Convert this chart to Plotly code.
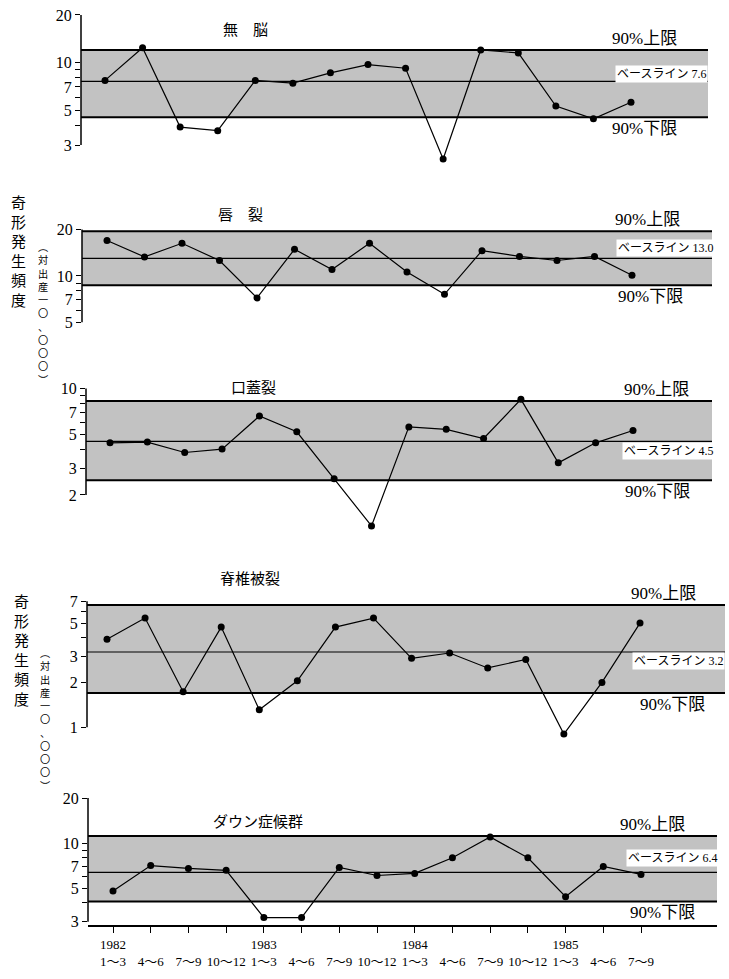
import math
import plotly.graph_objects as go

W, H = 729, 979

# ---------------- data ----------------
quarters = ["1～3", "4～6", "7～9", "10～12", "1～3", "4～6", "7～9", "10～12",
            "1～3", "4～6", "7～9", "10～12", "1～3", "4～6", "7～9"]
years = ["1982", "", "", "", "1983", "", "", "", "1984", "", "", "", "1985", "", ""]

titles = ["無　脳", "唇　裂", "口蓋裂", "脊椎被裂", "ダウン症候群"]

anencephaly = [7.7, 12.4, 3.9, 3.7, 7.7, 7.4, 8.6, 9.7, 9.2, 2.45, 12.0, 11.5, 5.3, 4.4, 5.6]
cleft_lip = [17.0, 13.3, 16.3, 12.6, 7.2, 14.9, 11.0, 16.3, 10.6, 7.6, 14.6, 13.4, 12.6, 13.4, 10.1]
cleft_palate = [4.4, 4.45, 3.8, 4.0, 6.6, 5.2, 2.55, 1.25, 5.6, 5.4, 4.7, 8.5, 3.25, 4.4, 5.3]
spina_bifida = [3.9, 5.4, 1.73, 4.7, 1.31, 2.05, 4.7, 5.4, 2.9, 3.15, 2.5, 2.85, 0.9, 2.0, 5.0]
down_syndrome = [4.8, 7.1, 6.8, 6.6, 3.2, 3.2, 6.9, 6.1, 6.3, 8.0, 11.0, 8.0, 4.4, 7.0, 6.2]

upper_90 = [12.0, 19.5, 8.3, 6.6, 11.2]
baseline = [7.6, 13.0, 4.5, 3.2, 6.4]
lower_90 = [4.5, 8.7, 2.5, 1.7, 4.1]

tick_vals = [[3, 4, 5, 6, 7, 8, 9, 10, 20],
             [5, 6, 7, 8, 9, 10, 20],
             [2, 3, 4, 5, 6, 7, 8, 9, 10],
             [1, 2, 3, 4, 5, 6, 7],
             [3, 4, 5, 6, 7, 8, 9, 10, 20]]
tick_labeled = [[3, 5, 7, 10, 20], [5, 7, 10, 20], [2, 3, 5, 7, 10], [1, 2, 3, 5, 7], [3, 5, 7, 10, 20]]

series = [anencephaly, cleft_lip, cleft_palate, spina_bifida, down_syndrome]

ylab = "奇形発生頻度"
ylab2 = "︵対出産一〇、〇〇〇︶"

# ---------------- layout geometry (pixels) ----------------
geo = [
    dict(ax=81, right=708, p0=105, p14=631, ref=20, ref_px=14, k=159, top=5, bot=170),
    dict(ax=82, right=712, p0=107, p14=632, ref=20, ref_px=230, k=155, top=222, bot=335),
    dict(ax=86, right=712, p0=110, p14=633, ref=10, ref_px=390, k=153, top=382, bot=535),
    dict(ax=87, right=725, p0=107, p14=640, ref=7, ref_px=604, k=150, top=596, bot=745),
    dict(ax=88, right=717, p0=113, p14=641, ref=20, ref_px=802, k=151, top=795, bot=930),
]
title_pos = [(245, 28), (240, 214), (253, 388), (250, 580), (258, 825)]
base_lbl = [(661, 7), (665, 10), (668, -10), (678, -9), (672, 14)]
up_lbl_x = [644, 647, 656, 663, 652]
lo_lbl_x = [644, 650, 657, 672, 662]
# vertical label centres (x, y)
ylab_pos = [(18, 251), (21, 652)]
ylab2_pos = [(43, 314), (45, 722)]

SERIF = "Liberation Serif, Noto Sans CJK JP"
CJK = "Noto Sans CJK JP"
BAND = "#c2c2c2"

fig = go.Figure()
shapes = []
annotations = []
layout = {}
n_pts = len(quarters)

for i in range(5):
    n = i + 1
    g = geo[i]
    xa = "xaxis" if n == 1 else f"xaxis{n}"
    ya = "yaxis" if n == 1 else f"yaxis{n}"
    xr = "x" if n == 1 else f"x{n}"
    yr = "y" if n == 1 else f"y{n}"

    step = (g["p14"] - g["p0"]) / (n_pts - 1)
    r0 = -(g["p0"] - g["ax"]) / step
    r1 = (n_pts - 1) + (g["right"] - g["p14"]) / step
    lref = math.log10(g["ref"])
    ytop = lref + (g["ref_px"] - g["top"]) / g["k"]
    ybot = lref - (g["bot"] - g["ref_px"]) / g["k"]

    xaxis = dict(domain=[g["ax"] / W, g["right"] / W], range=[r0, r1],
                 showgrid=False, zeroline=False, anchor=yr, fixedrange=True)
    if n == 5:
        xaxis.update(showline=True, linecolor="black", linewidth=2,
                     ticks="outside", ticklen=6, tickwidth=1.2, tickcolor="black",
                     tickmode="array", tickvals=list(range(n_pts)),
                     ticktext=[(y if y else " ") + "<br>" + q for y, q in zip(years, quarters)],
                     tickfont=dict(family=SERIF, size=13, color="black"))
    else:
        xaxis.update(visible=False)
    layout[xa] = xaxis

    layout[ya] = dict(domain=[1 - g["bot"] / H, 1 - g["top"] / H], type="log",
                      range=[ybot, ytop], showgrid=False, zeroline=False, showline=False,
                      anchor=xr, ticks="outside", ticklen=5, tickwidth=1.2, tickcolor="black",
                      tickmode="array", tickvals=tick_vals[i],
                      ticktext=[str(v) if v in tick_labeled[i] else "" for v in tick_vals[i]],
                      tickfont=dict(family=SERIF, size=16, color="black"), fixedrange=True)

    xd = f"{xr} domain"
    shapes.append(dict(type="rect", xref=xd, yref=yr, x0=0, x1=1, y0=lower_90[i], y1=upper_90[i],
                       fillcolor=BAND, line=dict(width=0), layer="below"))
    for val, wdt in ((upper_90[i], 2), (lower_90[i], 2), (baseline[i], 1.2)):
        shapes.append(dict(type="line", xref=xd, yref=yr, x0=0, x1=1, y0=val, y1=val,
                           line=dict(color="black", width=wdt), layer="below"))
    shapes.append(dict(type="line", xref=xd, yref=yr, x0=0, x1=0,
                       y0=min(tick_vals[i]), y1=max(tick_vals[i]),
                       line=dict(color="black", width=1.5)))

    fig.add_trace(go.Scatter(x=list(range(n_pts)), y=series[i], mode="lines+markers",
                             xaxis=xr, yaxis=yr, showlegend=False,
                             line=dict(color="black", width=1.2),
                             marker=dict(color="black", size=7)))

    tx, ty = title_pos[i]
    annotations.append(dict(text=titles[i], xref="paper", yref="paper", x=tx / W, y=1 - ty / H,
                            xanchor="center", yanchor="middle", showarrow=False,
                            font=dict(family=CJK, size=15, color="black")))
    annotations.append(dict(text="90%上限", xref="paper", yref=yr, x=up_lbl_x[i] / W,
                            y=math.log10(upper_90[i]), xanchor="center", yanchor="bottom",
                            showarrow=False, font=dict(family=SERIF, size=17, color="black")))
    annotations.append(dict(text="90%下限", xref="paper", yref=yr, x=lo_lbl_x[i] / W,
                            y=math.log10(lower_90[i]), xanchor="center", yanchor="top",
                            showarrow=False, font=dict(family=SERIF, size=17, color="black")))
    bx, bs = base_lbl[i]
    annotations.append(dict(text=f"ベースライン {baseline[i]:.1f}", xref="paper", yref=yr,
                            x=bx / W, y=math.log10(baseline[i]), yshift=bs,
                            xanchor="center", yanchor="middle", showarrow=False,
                            bgcolor="white", borderpad=1,
                            font=dict(family=SERIF, size=12, color="black")))

# vertical (tategaki) axis titles as stacked lines
for (x, y) in ylab_pos:
    annotations.append(dict(text="<br>".join(ylab), xref="paper", yref="paper", x=x / W, y=1 - y / H,
                            xanchor="center", yanchor="middle", showarrow=False,
                            font=dict(family=CJK, size=15, color="black")))
for (x, y) in ylab2_pos:
    annotations.append(dict(text="<br>".join(ylab2), xref="paper", yref="paper", x=x / W, y=1 - y / H,
                            xanchor="center", yanchor="middle", showarrow=False,
                            font=dict(family=CJK, size=10.2, color="black")))

fig.update_layout(width=W, height=H, margin=dict(l=0, r=0, t=0, b=0),
                  paper_bgcolor="white", plot_bgcolor="rgba(0,0,0,0)",
                  shapes=shapes, annotations=annotations, **layout)

fig.write_html("out.html")
